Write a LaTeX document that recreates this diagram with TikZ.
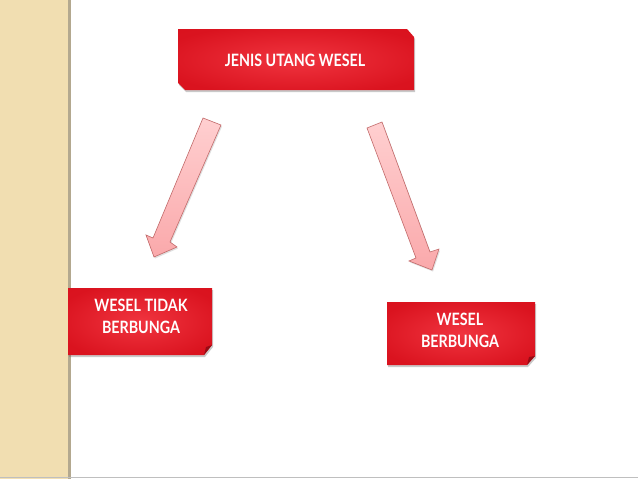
\documentclass[tikz,border=0pt]{standalone}
\usepackage{fontspec}
\setmainfont{Lato}
\newfontfamily\lbfont[FakeStretch=0.84]{Lato}
\usetikzlibrary{shadows,shadings}
\definecolor{band}{HTML}{F1DEB1}
\definecolor{bandedge}{HTML}{B3A88F}
\definecolor{boxred}{HTML}{D8101C}
\definecolor{boxlight}{HTML}{F0343F}
\definecolor{arrfill}{HTML}{FAA9AB}
\definecolor{arrlight}{HTML}{FFCFD0}
\definecolor{arrborder}{HTML}{C26A6A}
\pgfdeclareradialshading{redglow}{\pgfpoint{0bp}{0bp}}{color(0bp)=(boxlight); color(30bp)=(boxred!92!boxlight); color(50bp)=(boxred)}
\tikzset{
  redbox/.style={shading=redglow, draw=none, drop shadow={shadow xshift=1pt, shadow yshift=-2pt, opacity=0.35, fill=black!60}},
  pinkarrow/.style={top color=arrlight, bottom color=arrfill, draw=arrborder, line width=0.6pt, line join=miter, drop shadow={shadow xshift=1pt, shadow yshift=-1.5pt, opacity=0.25}},
  lbl/.style={text=white, font=\lbfont\bfseries\fontsize{17}{22}\selectfont, align=center, inner sep=0pt}
}
\begin{document}
\begin{tikzpicture}[x=1pt,y=-1pt]
\useasboundingbox (0,0) rectangle (638,479);
\fill[white] (0,0) rectangle (638,479);
% side band
\fill[band] (0,0) rectangle (68,479);
\fill[bandedge] (68,0) rectangle (71,479);
\draw[black!25, line width=1pt] (0,477) -- (638,477);
% top box
\path[redbox] (178,29) -- (407,29) -- (414,37) -- (414,90) -- (185,90) -- (178,83) -- cycle;
\node[lbl] (top) at (295,60) {JENIS UTANG WESEL};
% left box
\path[redbox] (68,288) -- (212,288) -- (212,345) -- (204,355) -- (68,355) -- cycle;
\fill[boxred!70!black] (204,355) -- (206,347) -- (212,345) -- cycle;
\node[lbl] (left) at (141,316) {WESEL TIDAK\\BERBUNGA};
% right box
\path[redbox] (387,302) -- (535,302) -- (535,356) -- (527,365) -- (387,365) -- cycle;
\fill[boxred!70!black] (527,365) -- (529,357) -- (535,356) -- cycle;
\node[lbl] (right) at (460,330) {WESEL\\BERBUNGA};
% arrows
\path[pinkarrow] (203,118) -- (221,125) -- (170,242) -- (177,247) -- (154,257) -- (146,235) -- (153,238) -- cycle;
\path[pinkarrow] (367,128) -- (382,122) -- (430,252) -- (439,249) -- (432,270) -- (409,261) -- (416,258) -- cycle;
\end{tikzpicture}
\end{document}
